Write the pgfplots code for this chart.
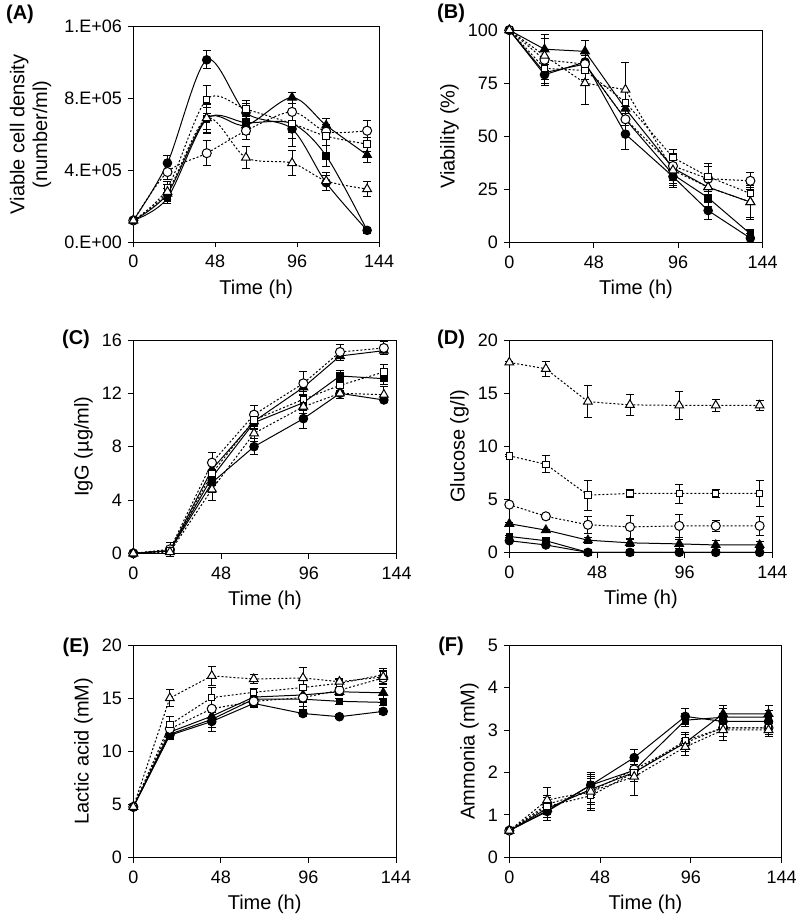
\documentclass[border=0pt]{standalone}
\usepackage{fontspec}
\setmainfont{Liberation Sans}
\usepackage{pgfplots}
\usepackage{pgfplotstable}
\pgfplotsset{compat=1.18}

\pgfplotstableread{
t fc fce fs fse ft fte oc oce os ose ot ote
0 1.2 0.1 1.2 0.1 1.2 0.1 1.2 0.1 1.2 0.1 1.2 0.1
20 4.4 0.4 2.45 0.3 2.7 0.3 3.9 0.4 3.0 0.4 2.8 0.4
43 10.15 0.5 6.85 0.8 6.9 0.8 4.95 0.7 7.95 0.8 6.9 0.6
66 7.2 0.5 6.65 0.6 6.5 0.5 6.2 0.5 7.4 0.5 4.7 0.6
93 6.3 1.0 6.6 0.8 8.05 0.3 7.25 0.5 6.6 0.5 4.4 0.7
113 3.3 0.4 4.8 0.6 6.5 0.4 6.15 0.4 5.9 0.5 3.4 0.5
137 0.65 0.1 0.65 0.1 4.85 0.4 6.2 0.6 5.45 0.4 2.95 0.4
}\dataA
\pgfplotstableread{
t fc fce fs fse ft fte oc oce os ose ot ote
0 100 0 100 0 100 0 100 0 100 0 100 0
20 79 5 80 5 91 7 86 5 82 5 88 8
43 85 3 84 4 90 5 84 4 81 4 75 10
66 51 7 58 6 63 8 58 6 66 5 72 13
93 31 5 32 5 35 6 36 6 40 4 34 6
113 15 4 21 4 26 6 30 6 31 6 26 6
137 2 2 4 2 19 7 29 4 23 5 19 8
}\dataB
\pgfplotstableread{
t fc fce fs fse ft fte oc oce os ose ot ote
0 0 0 0 0 0 0 0 0 0 0 0 0
20 0.2 0.3 0.2 0.3 0.2 0.3 0.3 0.5 0.2 0.3 0.1 0.3
43 5.3 0.7 5.7 0.6 6.3 0.6 6.8 0.8 6.0 0.7 4.8 0.8
66 8.0 0.6 9.8 0.5 9.9 0.5 10.4 0.7 10.0 0.5 9.0 0.6
93 10.1 0.7 11.3 0.6 12.45 0.5 12.75 0.9 11.55 0.6 11.0 0.5
113 12.0 0.4 13.3 0.4 14.8 0.3 15.1 0.6 12.6 0.4 12.0 0.4
137 11.5 0.2 13.1 0.4 15.2 0.3 15.4 0.5 13.6 0.6 11.9 0.6
}\dataC
\pgfplotstableread{
t fc fce fs fse ft fte oc oce os ose ot ote
0 1.1 0.1 1.5 0.1 2.7 0.1 4.5 0.1 9.1 0.1 17.9 0.1
20 0.7 0.1 1.1 0.1 2.1 0.1 3.4 0.3 8.3 0.8 17.3 0.7
43 0 0 0 0 1.15 0.3 2.6 0.8 5.4 1.4 14.2 1.5
66 0 0 0 0 0.9 0.3 2.4 1.1 5.55 0.4 13.9 1.0
93 0 0 0 0 0.8 0.4 2.5 1.1 5.55 0.9 13.85 1.3
113 0 0 0 0 0.7 0.4 2.5 0.5 5.55 0.4 13.85 0.6
137 0 0 0 0 0.7 0.3 2.5 0.9 5.55 1.2 13.85 0.5
}\dataD
\pgfplotstableread{
t fc fce fs fse ft fte oc oce os ose ot ote
0 4.75 0.1 4.75 0.1 4.75 0.1 4.75 0.1 4.75 0.1 4.75 0.1
20 11.5 0.4 11.6 0.4 11.8 0.4 12.1 0.5 12.5 0.8 15.0 0.8
43 12.8 0.9 13.0 0.8 13.3 0.7 14.0 1.0 15.05 1.0 17.1 0.9
66 14.5 0.4 14.9 0.3 15.1 0.4 14.7 0.5 15.55 0.4 16.8 0.4
93 13.55 0.3 14.9 1.0 15.3 0.4 15.05 0.8 16.0 0.9 16.9 1.0
113 13.25 0.2 14.7 0.3 15.6 0.3 15.75 0.5 16.4 0.4 16.55 0.3
137 13.75 0.3 14.6 0.3 15.5 0.5 16.9 0.6 17.2 0.6 17.0 0.6
}\dataE
\pgfplotstableread{
t fc fce fs fse ft fte oc oce os ose ot ote
0 0.63 0.03 0.63 0.03 0.63 0.03 0.63 0.03 0.63 0.03 0.63 0.03
20 1.08 0.2 1.1 0.15 1.15 0.15 1.25 0.2 1.2 0.2 1.35 0.3
43 1.7 0.3 1.7 0.25 1.6 0.3 1.55 0.3 1.45 0.3 1.55 0.45
66 2.35 0.2 2.05 0.2 2.0 0.2 2.07 0.2 2.0 0.2 1.9 0.45
93 3.32 0.2 3.23 0.15 2.7 0.2 2.7 0.2 2.75 0.2 2.6 0.2
113 3.2 0.2 3.3 0.2 3.38 0.2 3.05 0.2 3.05 0.2 3.0 0.25
137 3.2 0.15 3.3 0.15 3.38 0.2 3.05 0.15 3.05 0.15 3.0 0.15
}\dataF

\pgfplotsset{
  panel/.style={
    scale only axis, anchor=south west,
    xmin=0, xmax=144, xtick={0,48,96,144},
    tick align=outside, xtick pos=left, ytick pos=left,
    major tick length=4pt,
    axis line style={black, line width=0.7pt},
    tick style={black, line width=0.7pt},
    xlabel={Time (h)},
    tick label style={font=\fontsize{13.5}{15}\selectfont},
    label style={font=\fontsize{15}{17}\selectfont},
    /pgf/number format/assume math mode=true,
    clip=false,
    xticklabel style={yshift=-2.5pt},
    yticklabel style={xshift=-1pt},
    xlabel style={yshift=-2pt},
    error bars/y dir=both, error bars/y explicit,
    error bars/error bar style={solid, line width=0.6pt, black},
    error bars/error mark options={rotate=90, mark size=3pt, line width=0.6pt, black, solid},
  },
  sl/.style={black, line width=0.75pt, solid},
  dl/.style={black, line width=0.75pt, dash pattern=on 1.5pt off 1.5pt},
  sFC/.style={sl, mark=*, mark size=3.2pt, mark options={solid, fill=black}},
  sFS/.style={sl, mark=square*, mark size=2.4pt, mark options={solid, fill=black}},
  sFT/.style={sl, mark=triangle*, mark size=3.8pt, mark options={solid, fill=black}},
  sOC/.style={dl, mark=*, mark size=3.4pt, mark options={solid, fill=white}},
  sOS/.style={dl, mark=square*, mark size=2.4pt, mark options={solid, fill=white}},
  sOT/.style={dl, mark=triangle*, mark size=3.8pt, mark options={solid, fill=white}},
}

\newcommand{\sixplots}[2]{%
  \addplot[sFC,#2] table[x=t,y=fc,y error=fce]{#1};
  \addplot[sFS,#2] table[x=t,y=fs,y error=fse]{#1};
  \addplot[sFT,#2] table[x=t,y=ft,y error=fte]{#1};
  \addplot[sOC,#2] table[x=t,y=oc,y error=oce]{#1};
  \addplot[sOS,#2] table[x=t,y=os,y error=ose]{#1};
  \addplot[sOT,#2] table[x=t,y=ot,y error=ote]{#1};
}

\begin{document}
\begin{tikzpicture}
\path[use as bounding box] (0,0) rectangle (597pt,687pt);
\tikzset{plab/.style={font=\fontsize{15}{17}\selectfont\bfseries}}

% (A)
\begin{axis}[panel, at={(100pt,505.5pt)}, width=184.3pt, height=161.5pt,
  ymin=0, ymax=12, ytick={0,4,8,12},
  yticklabels={0.E+00,4.E+05,8.E+05,1.E+06},
  ylabel={Viable cell density\\(number/ml)}, ylabel style={align=center},
  ylabel shift=3pt]
\sixplots{\dataA}{smooth}
\end{axis}
\node[plab] at (15pt,676.5pt) {(A)};

% (B)
\begin{axis}[panel, at={(382pt,505.2pt)}, width=190pt, height=159.2pt,
  ymin=0, ymax=100, ytick={0,25,50,75,100},
  ylabel={Viability (\%)}]
\sixplots{\dataB}{}
\end{axis}
\node[plab] at (338.3pt,677.3pt) {(B)};

% (C)
\begin{axis}[panel, at={(100pt,272pt)}, width=197.5pt, height=160pt,
  ymin=0, ymax=16, ytick={0,4,8,12,16},
  ylabel={IgG (µg/ml)}]
\sixplots{\dataC}{}
\end{axis}
\node[plab] at (57pt,432.8pt) {(C)};

% (D)
\begin{axis}[panel, at={(382pt,272.7pt)}, width=197.3pt, height=159.2pt,
  ymin=0, ymax=20, ytick={0,5,10,15,20},
  ylabel={Glucose (g/l)}]
\sixplots{\dataD}{}
\end{axis}
\node[plab] at (338.3pt,432.8pt) {(D)};

% (E)
\begin{axis}[panel, at={(100pt,44pt)}, width=197pt, height=159.2pt,
  ymin=0, ymax=20, ytick={0,5,10,15,20},
  ylabel={Lactic acid (mM)}]
\sixplots{\dataE}{}
\end{axis}
\node[plab] at (57pt,201.8pt) {(E)};

% (F)
\begin{axis}[panel, at={(382pt,44pt)}, width=204.3pt, height=159.2pt,
  ymin=0, ymax=5, ytick={0,1,2,3,4,5},
  ylabel={Ammonia (mM)}]
\sixplots{\dataF}{}
\end{axis}
\node[plab] at (338.3pt,202.5pt) {(F)};
\end{tikzpicture}
\end{document}
